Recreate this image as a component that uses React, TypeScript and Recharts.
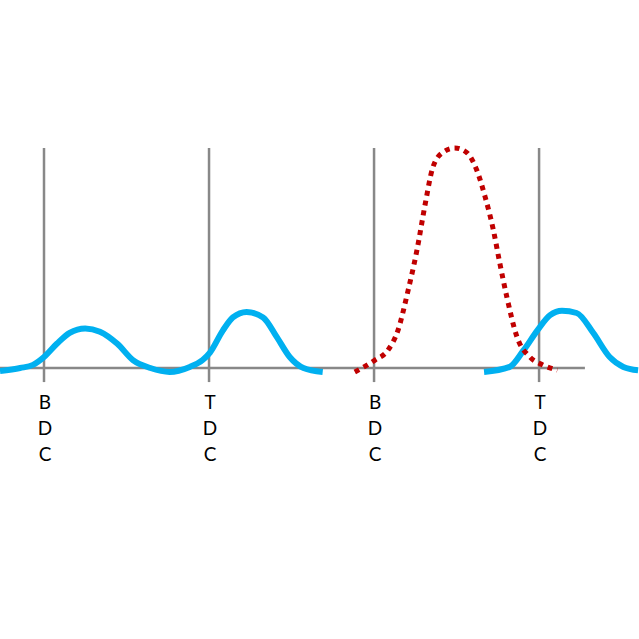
import React from 'react';
import { LineChart, Line, XAxis, YAxis, ReferenceLine } from 'recharts';

// crank angle (deg) vs relative value, baseline = 0, red peak = 100
const blueFirst = [
  { deg: 132, v: -1.4 }, { deg: 154, v: 0 }, { deg: 168, v: 1.4 }, { deg: 180, v: 5 },
  { deg: 194, v: 11 }, { deg: 208, v: 16 }, { deg: 225, v: 18 }, { deg: 241, v: 16.5 },
  { deg: 260, v: 11 }, { deg: 277, v: 3.6 }, { deg: 296, v: 0 }, { deg: 317, v: -1.8 },
  { deg: 339, v: 0.5 }, { deg: 353, v: 3.6 }, { deg: 361, v: 7 }, { deg: 375, v: 17 },
  { deg: 386, v: 23 }, { deg: 401, v: 25.5 }, { deg: 419, v: 23 }, { deg: 434, v: 14 },
  { deg: 448, v: 5 }, { deg: 463, v: 0 }, { deg: 484, v: -1.8 },
];

const blueSecond = [
  { deg: 660, v: -1.8 }, { deg: 688, v: 0.5 }, { deg: 703, v: 8 }, { deg: 718, v: 17 },
  { deg: 732, v: 24 }, { deg: 745, v: 26 }, { deg: 761, v: 25 }, { deg: 779, v: 16 },
  { deg: 797, v: 5 }, { deg: 812, v: 0.5 }, { deg: 828, v: -1 },
];

const redDotted = [
  { deg: 519, v: -1.8 }, { deg: 541, v: 3.6 }, { deg: 555, v: 8 }, { deg: 566, v: 17 },
  { deg: 577, v: 35 }, { deg: 587, v: 54 }, { deg: 596, v: 75 }, { deg: 604, v: 91 },
  { deg: 615, v: 98 }, { deg: 628, v: 100 }, { deg: 641, v: 98 }, { deg: 652, v: 90 },
  { deg: 661, v: 78 }, { deg: 670, v: 63 }, { deg: 677, v: 48 }, { deg: 685, v: 32 },
  { deg: 696, v: 14 }, { deg: 710, v: 5 }, { deg: 724, v: 1.4 }, { deg: 740, v: -1 },
];

const deadCentres = [180, 360, 540, 720];
const deadCentreLabels = ['BDC', 'TDC', 'BDC', 'TDC'];

const X_DOMAIN = [132, 829];
const Y_DOMAIN = [-123.18, 167.27];
const AXIS_END = 770;
const GRID_TOP = 100;
const GRID_BOTTOM = -6.4;

const StackedLabel = ({ viewBox, text }: any) => {
  if (!viewBox) return null;
  const x = viewBox.x + 1;
  const bottom = viewBox.y + viewBox.height;
  return (
    <text x={x} y={bottom + 27} textAnchor="middle" fill="#000" fontSize={19} fontFamily="Lato, 'Open Sans', sans-serif">
      {text.split('').map((ch: string, i: number) => (
        <tspan key={i} x={x} dy={i === 0 ? 0 : 26}>{ch}</tspan>
      ))}
    </text>
  );
};

export default function App() {
  return (
    <div style={{ position: 'absolute', left: 0, top: 0, width: 639, height: 639, background: '#fff' }}>
      <LineChart width={639} height={639} margin={{ top: 0, right: 0, bottom: 0, left: 0 }}>
        <XAxis type="number" dataKey="deg" domain={X_DOMAIN} hide allowDataOverflow />
        <YAxis type="number" domain={Y_DOMAIN} hide />
        <ReferenceLine
          segment={[{ x: X_DOMAIN[0], y: 0 }, { x: AXIS_END, y: 0 }]}
          stroke="#888" strokeWidth={2.5}
        />
        {deadCentres.map((d, i) => (
          <ReferenceLine
            key={i}
            segment={[{ x: d, y: GRID_TOP }, { x: d, y: GRID_BOTTOM }]}
            stroke="#888" strokeWidth={2.5}
            label={<StackedLabel text={deadCentreLabels[i]} />}
          />
        ))}
        <Line data={blueFirst} dataKey="v" type="monotone" stroke="#00b0f0" strokeWidth={6} dot={false} activeDot={false} isAnimationActive={false} />
        <Line data={blueSecond} dataKey="v" type="monotone" stroke="#00b0f0" strokeWidth={6} dot={false} activeDot={false} isAnimationActive={false} />
        <Line data={redDotted} dataKey="v" type="monotone" stroke="#c00000" strokeWidth={5} strokeDasharray="5 5" dot={false} activeDot={false} isAnimationActive={false} />
      </LineChart>
    </div>
  );
}
